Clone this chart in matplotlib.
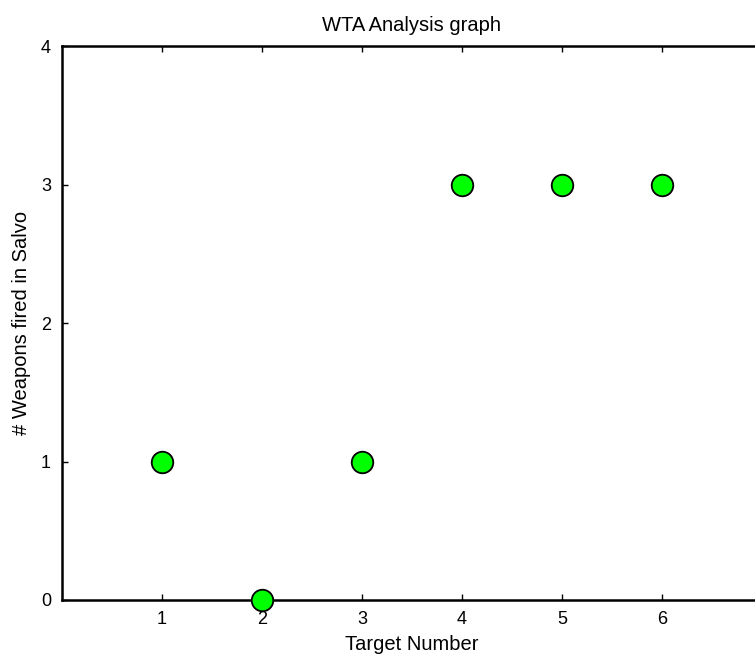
import matplotlib.pyplot as plt

# data
targets = [1, 2, 3, 4, 5, 6]
weapons = [1, 0, 1, 3, 3, 3]
x_ticks = [1, 2, 3, 4, 5, 6]
y_ticks = [0, 1, 2, 3, 4]

plt.rcParams['font.family'] = ['Liberation Sans', 'DejaVu Sans']

fig = plt.figure(figsize=(7.55, 6.57), dpi=100)
ax = fig.add_axes([62/755, 57/657, 700/755, 554/657])

ax.plot(targets, weapons, 'o', color='#00ff00', markeredgecolor='black',
        markeredgewidth=1.3, markersize=15.5, clip_on=False, zorder=5)

ax.set_xlim(0, 7)
ax.set_ylim(0, 4)
ax.set_xticks(x_ticks)
ax.set_yticks(y_ticks)
ax.tick_params(direction='in', length=4, width=1, labelsize=13, top=True, right=True, pad=8)
for s in ax.spines.values():
    s.set_linewidth(1.8)

ax.set_title('WTA Analysis graph', fontsize=14.5, pad=11)
ax.set_xlabel('Target Number', fontsize=14.5, labelpad=5)
ax.set_ylabel('# Weapons fired in Salvo', fontsize=14.5, labelpad=7)

fig.savefig('out.png', dpi=100)
